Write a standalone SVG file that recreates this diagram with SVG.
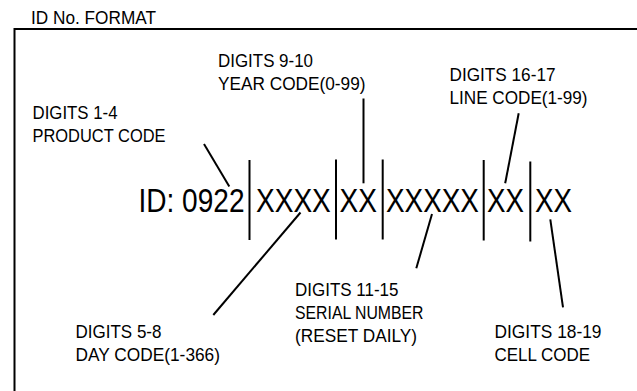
<svg xmlns="http://www.w3.org/2000/svg" width="637" height="391" viewBox="0 0 637 391">
<style>
.t{font-family:"Liberation Sans",Arial,sans-serif;font-size:18.5px;fill:#000}
.m{font-family:"Liberation Sans",Arial,sans-serif;font-size:34px;fill:#000}
.ln{stroke:#000;stroke-width:2;fill:none}
</style>
<rect width="637" height="391" fill="#fff"/>
<g id="frame">
<text class="t" x="31" y="23.5" textLength="125" lengthAdjust="spacingAndGlyphs">ID No. FORMAT</text>
<path class="ln" d="M14.5 395 V29 H640"/>
</g>
<g id="id-code">
<text class="m" transform="translate(138.5,211.5) scale(0.825,1)">ID: 0922</text>
<text class="m" transform="translate(256,211.5) scale(0.825,1)">XXXX</text>
<text class="m" transform="translate(339.5,211.5) scale(0.825,1)">XX</text>
<text class="m" transform="translate(386,211.5) scale(0.82,1)">XXXXX</text>
<text class="m" transform="translate(487,211.5) scale(0.815,1)">XX</text>
<text class="m" transform="translate(535,211.5) scale(0.815,1)">XX</text>
<path class="ln" d="M249.5 160 V240 M336 159.5 V239.5 M382.7 159.5 V239.5 M483.7 160 V240.5 M530.3 161.5 V241.5"/>
</g>
<g id="product">
<text class="t" x="32.5" y="119" textLength="85" lengthAdjust="spacingAndGlyphs">DIGITS 1-4</text>
<text class="t" x="32.5" y="142" textLength="133" lengthAdjust="spacingAndGlyphs">PRODUCT CODE</text>
</g>
<g id="year">
<text class="t" x="218" y="67" textLength="95" lengthAdjust="spacingAndGlyphs">DIGITS 9-10</text>
<text class="t" x="218" y="89.5" textLength="147.5" lengthAdjust="spacingAndGlyphs">YEAR CODE(0-99)</text>
</g>
<g id="line">
<text class="t" x="449.5" y="81" textLength="106" lengthAdjust="spacingAndGlyphs">DIGITS 16-17</text>
<text class="t" x="449.5" y="104" textLength="138" lengthAdjust="spacingAndGlyphs">LINE CODE(1-99)</text>
</g>
<g id="day">
<text class="t" x="75.5" y="337.5" textLength="86" lengthAdjust="spacingAndGlyphs">DIGITS 5-8</text>
<text class="t" x="75.5" y="360.5" textLength="144.5" lengthAdjust="spacingAndGlyphs">DAY CODE(1-366)</text>
</g>
<g id="serial">
<text class="t" x="295" y="296" textLength="103.5" lengthAdjust="spacingAndGlyphs">DIGITS 11-15</text>
<text class="t" x="295" y="319" textLength="128.5" lengthAdjust="spacingAndGlyphs">SERIAL NUMBER</text>
<text class="t" x="295" y="342" textLength="122" lengthAdjust="spacingAndGlyphs">(RESET DAILY)</text>
</g>
<g id="cell">
<text class="t" x="494.5" y="337.5" textLength="107" lengthAdjust="spacingAndGlyphs">DIGITS 18-19</text>
<text class="t" x="494.5" y="360.5" textLength="95.5" lengthAdjust="spacingAndGlyphs">CELL CODE</text>
</g>
<g id="connectors">
<path class="ln" d="M204 144 L229.3 186.5"/>
<path class="ln" d="M363.5 98.5 V183.3"/>
<path class="ln" d="M518.7 113.3 L505.2 183.3"/>
<path class="ln" d="M300.5 212.5 L213.3 315"/>
<path class="ln" d="M432 214 L416.3 268.3"/>
<path class="ln" d="M550.3 219.3 L563 307.3"/>
</g>
</svg>
